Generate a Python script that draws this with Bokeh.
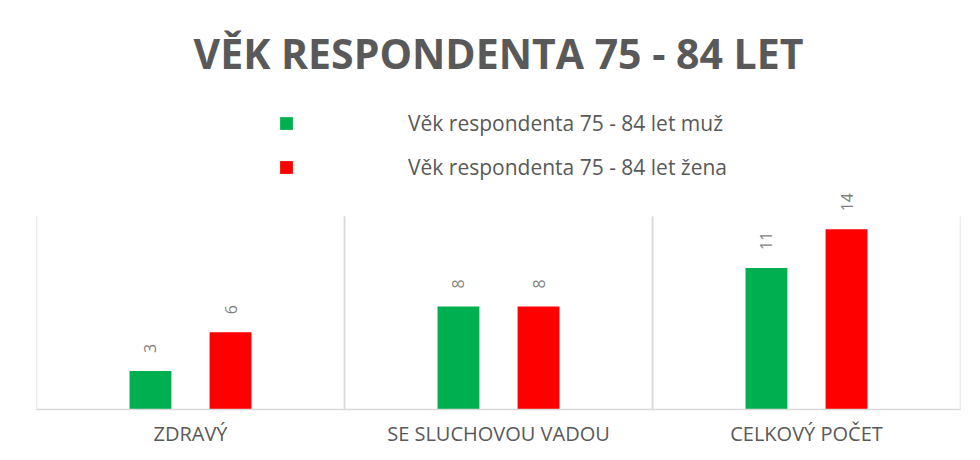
import math
from bokeh.plotting import figure
from bokeh.models import ColumnDataSource, FactorRange, Range1d, Legend, LegendItem, Label
from bokeh.transform import dodge
from bokeh.core.properties import value
from bokeh.embed import file_html
from bokeh.resources import INLINE

# ---- data ----
categories = ["ZDRAVÝ", "SE SLUCHOVOU VADOU", "CELKOVÝ POČET"]
muz = [3, 8, 11]
zena = [6, 8, 14]
series_names = ["Věk respondenta 75 - 84 let muž", "Věk respondenta 75 - 84 let žena"]
title_text = "VĚK RESPONDENTA 75 - 84 LET"
axis_max = 15

GREEN = "#00B050"
RED = "#FF0000"
GRAY_TXT = "#595959"
LABEL_TXT = "#7F7F7F"
GRID = "#D9D9D9"
FONT = "Open Sans"

# layout (pixels)
W, H = 980, 460
FRAME_TOP_PLOT = 216   # where the value axis maximum sits
FRAME_BOTTOM = 409
BORDER_BOTTOM = H - FRAME_BOTTOM
y_end = axis_max * FRAME_BOTTOM / (FRAME_BOTTOM - FRAME_TOP_PLOT)

src = ColumnDataSource(dict(
    cat=categories, muz=muz, zena=zena,
    muz_t=[str(v) for v in muz], zena_t=[str(v) for v in zena],
    y0=[0] * len(categories), ytop=[axis_max] * len(categories),
))

p = figure(x_range=FactorRange(*categories), y_range=Range1d(0, y_end),
           width=W, height=H, output_backend="svg", toolbar_location=None,
           min_border_left=36, min_border_right=20, min_border_bottom=BORDER_BOTTOM,
           min_border_top=0)

# separators at category boundaries
p.segment(x0=dodge("cat", -0.5, range=p.x_range), y0="y0",
          x1=dodge("cat", -0.5, range=p.x_range), y1="ytop",
          source=src, line_color=GRID, line_width=1.5)
p.segment(x0=dodge("cat", 0.5, range=p.x_range), y0="y0",
          x1=dodge("cat", 0.5, range=p.x_range), y1="ytop",
          source=src, line_color=GRID, line_width=1.5)

r1 = p.vbar(x=dodge("cat", -0.13, range=p.x_range), top="muz", width=0.136,
            source=src, fill_color=GREEN, line_color=None)
r2 = p.vbar(x=dodge("cat", 0.13, range=p.x_range), top="zena", width=0.136,
            source=src, fill_color=RED, line_color=None)

for xoff, col in ((-0.13, "muz"), (0.13, "zena")):
    p.text(x=dodge("cat", xoff, range=p.x_range), y=col, text=col + "_t",
           source=src, angle=math.pi / 2, text_align="left", text_baseline="middle",
           y_offset=-18, text_font=value(FONT), text_font_size="16px",
           text_color=LABEL_TXT)

# title drawn as a label (screen units)
title = Label(x=462, y=357, x_units="screen", y_units="screen", text=title_text,
              text_align="center", text_baseline="alphabetic",
              text_font=FONT, text_font_style="bold", text_font_size="41px",
              text_color=GRAY_TXT)
p.add_layout(title)

legend = Legend(items=[LegendItem(label=series_names[0], renderers=[r1]),
                       LegendItem(label=series_names[1], renderers=[r2])],
                orientation="vertical", location=(242, 228),
                border_line_color=None, background_fill_alpha=0,
                glyph_width=16, glyph_height=16, label_standoff=114,
                label_height=20, spacing=16, padding=0, margin=0,
                label_text_font=FONT, label_text_font_size="21px",
                label_text_color=GRAY_TXT)
p.add_layout(legend, "center")

p.xaxis.axis_line_color = GRID
p.xaxis.axis_line_width = 1.5
p.xaxis.major_tick_line_color = None
p.xaxis.minor_tick_line_color = None
p.xaxis.major_label_text_font = FONT
p.xaxis.major_label_text_font_size = "20px"
p.xaxis.major_label_text_color = GRAY_TXT
p.xaxis.major_label_standoff = 4
p.yaxis.visible = False
p.xgrid.grid_line_color = None
p.ygrid.grid_line_color = None
p.outline_line_color = None

open("out.html", "w").write(file_html(p, INLINE))
